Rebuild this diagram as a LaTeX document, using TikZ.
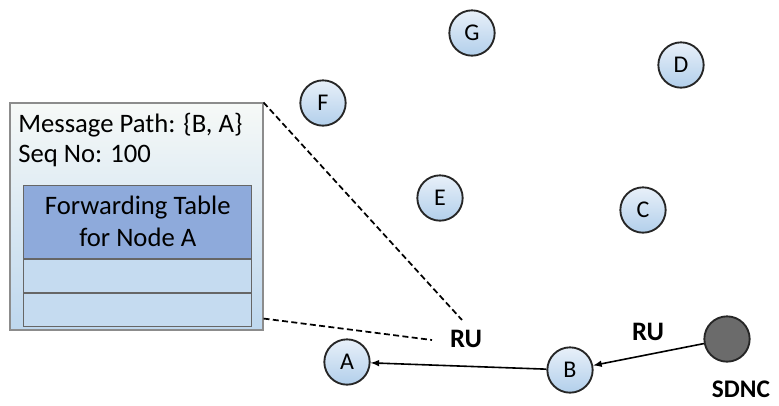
\documentclass[tikz,border=0pt]{standalone}
\usepackage{fontspec}
\setmainfont{Carlito}
\usetikzlibrary{arrows,positioning,shadings}

\definecolor{nodetop}{RGB}{232,240,249}
\definecolor{nodebot}{RGB}{178,207,235}
\definecolor{boxtop}{RGB}{246,249,247}
\definecolor{boxbot}{RGB}{190,215,238}
\definecolor{tablehead}{RGB}{142,170,219}
\definecolor{tablerow}{RGB}{197,219,240}

\tikzset{
  netnode/.style={circle, draw=black!85, line width=1.4pt, minimum size=34pt,
    inner sep=0pt, top color=nodetop, bottom color=nodebot,
    font=\fontsize{18}{18}\selectfont},
  ctrlnode/.style={circle, draw=black!85, line width=1.4pt, minimum size=34pt,
    fill=black!58},
  msgbox/.style={rectangle, draw=black!45, line width=0.8pt,
    minimum width=189.75pt, minimum height=170.25pt,
    top color=boxtop, bottom color=boxbot},
  tablecell/.style={rectangle, draw=black!60, line width=0.7pt,
    minimum width=170.8pt, fill=tablerow, inner sep=0pt},
  boxtext/.style={font=\fontsize{20}{23}\selectfont, inner sep=0pt, anchor=west},
  tag/.style={font=\bfseries\fontsize{20}{20}\selectfont},
  zoomline/.style={dash pattern=on 4.5pt off 2.5pt, line width=1.3pt}
}

\begin{document}
\begin{tikzpicture}[x=0.75pt, y=-0.75pt, >=latex]
  \useasboundingbox (0,0) rectangle (779,405);

  % network nodes
  \node[netnode] (G) at (472,33)  {G};
  \node[netnode] (D) at (681,65)  {D};
  \node[netnode] (F) at (323,103) {F};
  \node[netnode] (E) at (440,198) {E};
  \node[netnode] (C) at (643,210) {C};
  \node[netnode] (A) at (347,362) {A};
  \node[netnode] (B) at (570,370) {B};
  \node[ctrlnode] (sdnc) at (727,339) {};
  \node[tag, inner sep=0pt, font=\bfseries\fontsize{19}{19}\selectfont]
    (sdnc label) at (741,389) {SDNC};

  \node[tag] (ru left)  at (466,339) {RU};
  \node[tag] (ru right) at (648,332) {RU};

  \draw [->, line width=1.2pt] (sdnc) -- (B);
  \draw [->, line width=1.2pt] (B) -- (A);

  % routing update message
  \node[msgbox] (msg) at (136.5,216.5) {};
  \node[boxtext] (path) at (18,125) {Message Path: \{B, A\}};
  \node[boxtext] (seq)  at (18,156) {Seq No: 100};
  \node[tablecell, fill=tablehead, minimum height=54.75pt, align=center,
        font=\fontsize{20}{24}\selectfont] (head) at (137.8,221.7)
        {Forwarding Table\\for Node A};
  \node[tablecell, minimum height=25pt] (row1) [below=0pt of head] {};
  \node[tablecell, minimum height=25pt] (row2) [below=0pt of row1] {};

  \coordinate (zoom top) at (462,320);
  \coordinate (zoom bot) at (432,340);
  \draw [zoomline] (msg.north east) -- (zoom top);
  \draw [zoomline] ([yshift=9pt]msg.south east) -- (zoom bot);
\end{tikzpicture}
\end{document}
